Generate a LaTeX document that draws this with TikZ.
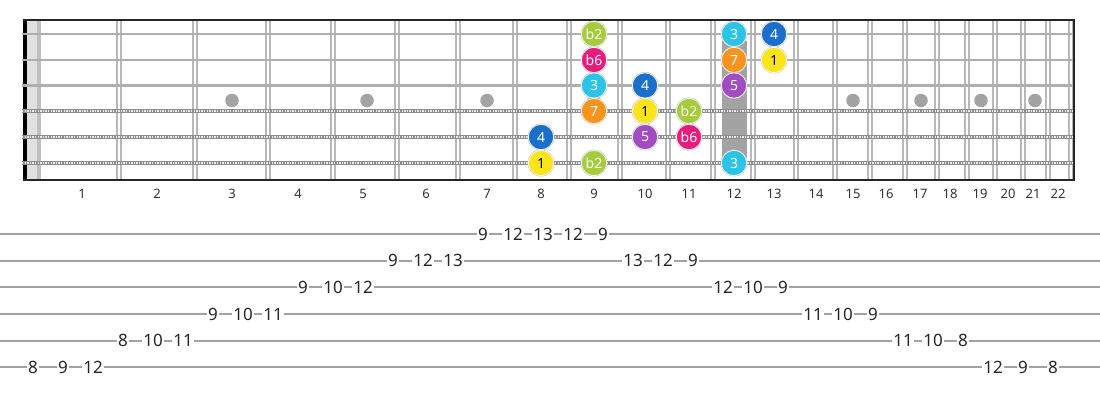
\documentclass[tikz,border=0pt]{standalone}
\usepackage{fontspec}
\setmainfont{Noto Sans}
\definecolor{cBtwo}{HTML}{A6CB3B}
\definecolor{cBsix}{HTML}{E81C7D}
\definecolor{cThree}{HTML}{2BC3E6}
\definecolor{cFour}{HTML}{1B6FCC}
\definecolor{cSeven}{HTML}{F7941E}
\definecolor{cOne}{HTML}{FBE51A}
\definecolor{cFive}{HTML}{A24CC2}
\definecolor{wire}{HTML}{B8B8B8}
\definecolor{strg}{HTML}{AFAFAF}
\definecolor{tabline}{HTML}{A2A2A2}
\definecolor{dotgray}{HTML}{A3A3A3}
\tikzset{
  note/.style={circle, minimum size=25.5pt, inner sep=0pt, draw=white, line width=0.9pt, text=white, font=\fontsize{14}{14}\selectfont},
  noteedge/.style={draw=black!25, line width=0.4pt},
  fretnum/.style={inner sep=0pt, text=black!80, font=\fontsize{13}{13}\selectfont},
  tabnum/.style={fill=white, inner sep=1.2pt, text=black!85, font=\fontsize{17}{17}\selectfont},
  fretwire/.style={draw=wire, line width=1.1pt},
  plainstring/.style={draw=strg, line width=2.4pt},
  woundstring/.style={draw=black!45, line width=3.8pt},
  woundpattern/.style={draw=black!8, line width=1.6pt, dash pattern=on 1.3pt off 1.3pt},
  markdot/.style={circle, fill=dotgray, minimum size=13.5pt, inner sep=0pt},
  tabstring/.style={draw=tabline, line width=1.8pt}
}
\begin{document}
\begin{tikzpicture}[x=1pt, y=-1pt]
\useasboundingbox (0,0) rectangle (1100,400);
\fill[white] (0,0) rectangle (1100,400);
% nut area
\fill[black!12] (27,20) rectangle (37,180);
\fill[black!25] (37,20) rectangle (41,180);
\fill[black] (22.5,20) rectangle (27.3,180);
% 12th fret block
\fill[dotgray] (722,41) rectangle (747,158);
% fret wires
\foreach \fx in {119,195,268,333,397,458,515,569,620,668,713,753,796,835,870,905,937,967,995,1023,1048,1071} {
  \draw[fretwire] (\fx-2,20) -- (\fx-2,180);
  \draw[fretwire] (\fx+2,20) -- (\fx+2,180);
}
% fret marker dots
\foreach \dx [count=\i] in {232,367,487,594,853,921,981,1035} {
  \node[markdot] (dot\i) at (\dx,100.5) {};
}
% strings
\foreach \sy in {34,60,85.5} {
  \draw[plainstring] (22,\sy) -- (1074,\sy);
}
\foreach \sy in {111,137,163} {
  \draw[woundstring] (22,\sy) -- (1074,\sy);
  \draw[woundpattern] (22,\sy) -- (1074,\sy);
}
% borders
\draw[black!85, line width=2pt] (22.5,20) -- (1074,20);
\draw[black!85, line width=2pt] (22.5,180) -- (1074,180);
\draw[black!85, line width=1.5pt] (1074,19) -- (1074,181);
% fret numbers
\foreach \nx [count=\n] in {82,157,232,298,363,426,487,541,594,645,689,734,774,816,853,886,920,950,980,1008,1033,1058} {
  \node[fretnum] (fn\n) at (\nx,194) {\n};
}
% notes
\foreach \x/\y/\lab/\col/\tc [count=\k] in {
  594/34/b2/cBtwo/white, 734/34/3/cThree/white, 774/34/4/cFour/white,
  594/60/b6/cBsix/white, 734/60/7/cSeven/white, 774/60/1/cOne/black,
  594/85.5/3/cThree/white, 645/85.5/4/cFour/white, 734/85.5/5/cFive/white,
  594/111/7/cSeven/white, 645/111/1/cOne/black, 689/111/b2/cBtwo/white,
  541/137/4/cFour/white, 645/137/5/cFive/white, 689/137/b6/cBsix/white,
  541/163/1/cOne/black, 594/163/b2/cBtwo/white, 734/163/3/cThree/white} {
  \node[note, fill=\col, text=\tc] (note\k) at (\x,\y) {\lab};
  \draw[noteedge] (note\k.center) circle (13.2pt);
}
% tablature lines
\foreach \ty in {234,260.7,287.3,314,340.7,367.3} {
  \draw[tabstring] (0,\ty) -- (1100,\ty);
}
% tablature numbers
\foreach \x/\y/\v [count=\k] in {
  483/234/9, 513/234/12, 543/234/13, 573/234/12, 603/234/9,
  393/260.7/9, 423/260.7/12, 453/260.7/13, 633/260.7/13, 663/260.7/12, 693/260.7/9,
  303/287.3/9, 333/287.3/10, 363/287.3/12, 723/287.3/12, 753/287.3/10, 783/287.3/9,
  213/314/9, 243/314/10, 273/314/11, 813/314/11, 843/314/10, 873/314/9,
  123/340.7/8, 153/340.7/10, 183/340.7/11, 903/340.7/11, 933/340.7/10, 963/340.7/8,
  33/367.3/8, 63/367.3/9, 93/367.3/12, 993/367.3/12, 1023/367.3/9, 1053/367.3/8} {
  \node[tabnum] (tab\k) at (\x,\y) {\v};
}
\end{tikzpicture}
\end{document}
